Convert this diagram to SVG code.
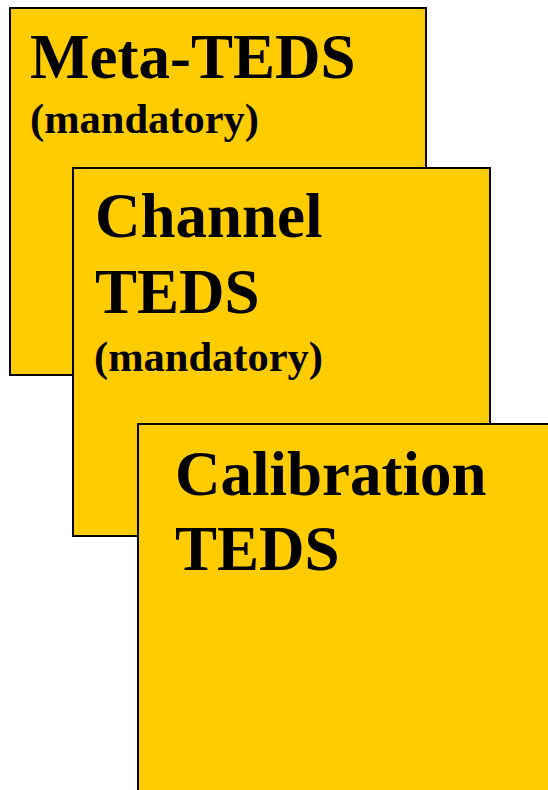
<svg xmlns="http://www.w3.org/2000/svg" width="548" height="790" viewBox="0 0 548 790">
<style>
.box{fill:#FFCC00;stroke:#000;stroke-width:2}
.big{font-family:"Liberation Serif","Times New Roman",serif;font-weight:bold;font-size:63px;fill:#000}
.small{font-family:"Liberation Serif","Times New Roman",serif;font-weight:bold;font-size:42.5px;fill:#000}
</style>
<rect width="548" height="790" fill="#fff"/>
<g id="meta-teds">
<rect class="box" x="10" y="8" width="416" height="367"/>
<text class="big" x="30" y="78">Meta-TEDS</text>
<text class="small" x="30" y="133">(mandatory)</text>
</g>
<g id="channel-teds">
<rect class="box" x="73" y="168" width="417" height="368"/>
<text class="big" x="95" y="237">Channel</text>
<text class="big" x="95" y="313">TEDS</text>
<text class="small" x="94" y="371">(mandatory)</text>
</g>
<g id="calibration-teds">
<rect class="box" x="138" y="424" width="420" height="380"/>
<text class="big" x="175" y="495">Calibration</text>
<text class="big" x="175" y="570">TEDS</text>
</g>
<g id="connectors"></g>
</svg>
